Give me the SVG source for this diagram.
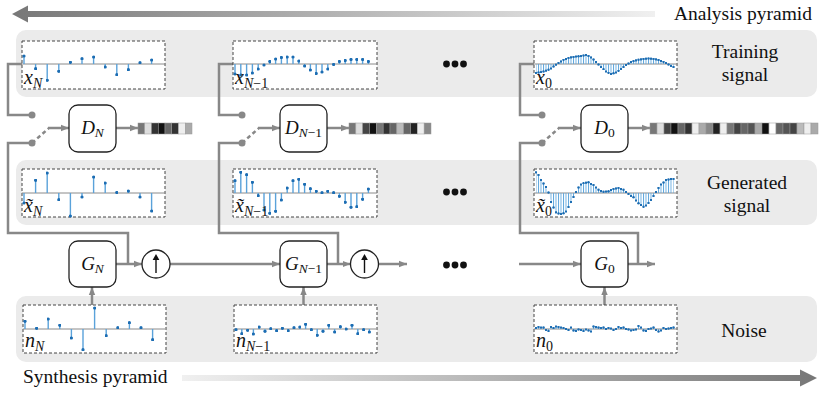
<svg xmlns="http://www.w3.org/2000/svg" width="830" height="394" viewBox="0 0 830 394">
<style>
.band{fill:#ebebeb}
.box{fill:#fff;stroke:#222;stroke-width:1.3}
.dbox{fill:#fff;stroke:#444;stroke-width:1;stroke-dasharray:3 2}
.ax{stroke:#8a8a8a;stroke-width:1;fill:none}
.st{stroke:#5aa2da;stroke-width:1.4;fill:none}
.dp{fill:none;stroke:none;marker-start:url(#dt);marker-mid:url(#dt);marker-end:url(#dt)}
.dd{fill:none;stroke:none;marker-start:url(#ds);marker-mid:url(#ds);marker-end:url(#ds)}
.hf{fill:url(#hatch);stroke:none}
.conn{stroke:#888;stroke-width:2.5;fill:none}
.arr{marker-end:url(#ah)}
.dash{stroke-dasharray:4 3}
.jd{fill:#888}
.lbl{font-family:'Liberation Serif','Times New Roman','DejaVu Serif',serif;font-style:italic;font-size:20px;fill:#111}
.sub{font-size:14px}
.up{font-style:normal}
.nl{font-family:'Liberation Serif','Times New Roman','DejaVu Serif',serif;font-style:italic;font-size:19px;fill:#111}
.nl .sub{font-size:13.5px}
.txt{font-family:'Liberation Serif','Times New Roman','DejaVu Serif',serif;font-size:19.5px;fill:#111}
.ell{fill:#111}
</style>
<defs>
<marker id="ah" viewBox="0 0 10 10" refX="10" refY="5" markerWidth="8" markerHeight="8" markerUnits="userSpaceOnUse" orient="auto"><path d="M0,1 L10,5 L0,9 z" fill="#888"/></marker>
<marker id="dt" viewBox="-1 -1 2 2" markerWidth="3.2" markerHeight="3.2" markerUnits="userSpaceOnUse"><circle r="1" fill="#1c6db3"/></marker>
<marker id="ds" viewBox="-1 -1 2 2" markerWidth="2.5" markerHeight="2.5" markerUnits="userSpaceOnUse"><circle r="1" fill="#1c6db3"/></marker>
<pattern id="hatch" width="2.5" height="4" patternUnits="userSpaceOnUse" patternTransform="translate(-0.45 0)"><rect width="0.9" height="4" fill="#5ea6dc"/></pattern>
<linearGradient id="gl" gradientUnits="userSpaceOnUse" x1="12" y1="0" x2="655" y2="0"><stop offset="0" stop-color="#777"/><stop offset="1" stop-color="#f0f0f0"/></linearGradient>
<linearGradient id="gr" gradientUnits="userSpaceOnUse" x1="182" y1="0" x2="817" y2="0"><stop offset="0" stop-color="#f0f0f0"/><stop offset="1" stop-color="#777"/></linearGradient>
</defs>

<g id="pyramid-arrows">
<polygon points="12,14 28,5.5 28,11 655,11 655,17 28,17 28,22.5" fill="url(#gl)"/>
<text class="txt" x="812" y="20" text-anchor="end">Analysis pyramid</text>
<polygon points="182,375 800,375 800,369.5 817,378 800,386.5 800,381 182,381" fill="url(#gr)"/>
<text class="txt" x="23" y="383">Synthesis pyramid</text>
</g>

<g id="bands">
<rect class="band" x="16" y="30" width="801" height="67" rx="10"/>
<rect class="band" x="16" y="160" width="801" height="65" rx="10"/>
<rect class="band" x="16" y="296" width="801" height="66" rx="10"/>
<text class="txt" x="745" y="57.5" text-anchor="middle">Training</text>
<text class="txt" x="745" y="80.5" text-anchor="middle">signal</text>
<text class="txt" x="747" y="189" text-anchor="middle">Generated</text>
<text class="txt" x="747" y="211.5" text-anchor="middle">signal</text>
<text class="txt" x="744" y="337" text-anchor="middle">Noise</text>
</g>

<g id="connectors">
<path class="conn" d="M22 64H8V115H32"/>
<path class="conn" d="M128 264V233H8V143H32"/>
<path class="conn dash" d="M32 143L48.5 128.5"/>
<path class="conn arr" d="M48 128H69"/>
<path class="conn arr" d="M116 128H138"/>
<path class="conn arr" d="M116 264H142"/>
<path class="conn arr" d="M170 264H280"/>
<path class="conn arr" d="M92 305V287"/>

<path class="conn" d="M233 64H219V115H242"/>
<path class="conn" d="M338 264V233H219V143H242"/>
<path class="conn dash" d="M242 143L258.5 128.5"/>
<path class="conn arr" d="M258 128H280"/>
<path class="conn arr" d="M327 128H349"/>
<path class="conn arr" d="M327 264H350.5"/>
<path class="conn arr" d="M378.5 264H407"/>
<path class="conn arr" d="M303.5 305V287"/>

<path class="conn" d="M534 64H520V115H542"/>
<path class="conn" d="M638 264V233H520V143H542"/>
<path class="conn dash" d="M542 143L558.5 128.5"/>
<path class="conn arr" d="M558 128H581"/>
<path class="conn arr" d="M628 128H650"/>
<path class="conn arr" d="M519 264H581"/>
<path class="conn arr" d="M628 264H655"/>
<path class="conn arr" d="M604.5 305V287"/>

<circle class="jd" cx="32" cy="115" r="3.5"/><circle class="jd" cx="32" cy="143" r="3.5"/>
<circle class="jd" cx="242" cy="115" r="3.5"/><circle class="jd" cx="242" cy="143" r="3.5"/>
<circle class="jd" cx="542" cy="115" r="3.5"/><circle class="jd" cx="542" cy="143" r="3.5"/>
</g>

<g id="ellipses">
<circle class="ell" cx="446.5" cy="64" r="3.4"/><circle class="ell" cx="455" cy="64" r="3.4"/><circle class="ell" cx="463.5" cy="64" r="3.4"/>
<circle class="ell" cx="446.5" cy="192" r="3.4"/><circle class="ell" cx="455" cy="192" r="3.4"/><circle class="ell" cx="463.5" cy="192" r="3.4"/>
<circle class="ell" cx="446.5" cy="265" r="3.4"/><circle class="ell" cx="455" cy="265" r="3.4"/><circle class="ell" cx="463.5" cy="265" r="3.4"/>
</g>

<!-- Training signals -->
<g id="xN">
<rect class="dbox" x="22" y="41" width="143" height="48"/>
<g transform="translate(0,64)">
<path class="ax" d="M22 0H165"/>
<path class="st" d="M24 0V-8M35.6 0V4.7M47.2 0V16.3M58.8 0V7.3M70.4 0V-1.7M82 0V-5.3M93.6 0V-7M105.2 0V3M116.8 0V10.7M128.4 0V5.7M140 0V-1.3M151.6 0V-4"/>
<polyline class="dp" points="24,-8 35.6,4.7 47.2,16.3 58.8,7.3 70.4,-1.7 82,-5.3 93.6,-7 105.2,3 116.8,10.7 128.4,5.7 140,-1.3 151.6,-4"/>
</g>
<text class="lbl" x="24" y="84">x<tspan class="sub" dy="4">N</tspan></text>
</g>

<g id="xN1">
<rect class="dbox" x="233" y="41" width="144" height="48"/>
<g transform="translate(235,64)">
<path class="ax" d="M-2 0H142"/>
<path class="st" d="M0 0V10M5.8 0V11M11.6 0V11M17.4 0V9M23.2 0V5M29 0V1M34.8 0V-2.5M40.6 0V-5M46.4 0V-6.5M52.2 0V-7M58 0V-7M63.8 0V-3M69.6 0V2M75.4 0V6M81.2 0V9.5M87 0V8M92.8 0V5M98.6 0V.5M104.4 0V-2.5M110.2 0V-3.5M116 0V-4.5M121.8 0V-4.5M127.6 0V-4.5M133.4 0V-2.5"/>
<polyline class="dp" points="0,10 5.8,11 11.6,11 17.4,9 23.2,5 29,1 34.8,-2.5 40.6,-5 46.4,-6.5 52.2,-7 58,-7 63.8,-3 69.6,2 75.4,6 81.2,9.5 87,8 92.8,5 98.6,.5 104.4,-2.5 110.2,-3.5 116,-4.5 121.8,-4.5 127.6,-4.5 133.4,-2.5"/>
</g>
<text class="lbl" x="235" y="84">x<tspan class="sub" dy="4">N<tspan class="up">−1</tspan></tspan></text>
</g>

<g id="x0">
<rect class="dbox" x="534" y="41" width="143" height="48"/>
<g transform="translate(536,64)">
<path class="ax" d="M-2 0H141"/>
<polygon class="hf" points="0,9 2.5,8.6 5,8.2 7.5,7.5 10,6.7 12.5,5.7 15,4.5 17.5,2.6 20,.7 22.5,-1 25,-2.6 27.5,-4.2 30,-5.1 32.5,-6 35,-6.7 37.5,-7.1 40,-7.5 42.5,-7.7 45,-7.9 47.5,-8.4 50,-9 52.5,-8.1 55,-6.6 57.5,-4.6 60,-2 62.5,.5 65,3 67.5,5.2 70,7.5 72.5,8.8 75,10 77.5,9.3 80,8.5 82.5,6.8 85,5 87.5,3 90,1 92.5,-.5 95,-2 97.5,-2.9 100,-3.7 102.5,-4.3 105,-4.7 107.5,-5.1 110,-5.3 112.5,-5.5 115,-5.3 117.5,-5.1 120,-4.7 122.5,-4.1 125,-3.2 127.5,-2.2 130,-.9 132.5,.6 135,1.8 137.5,3 137.5,0 0,0"/>
<polyline class="dd" points="0,9 2.5,8.6 5,8.2 7.5,7.5 10,6.7 12.5,5.7 15,4.5 17.5,2.6 20,.7 22.5,-1 25,-2.6 27.5,-4.2 30,-5.1 32.5,-6 35,-6.7 37.5,-7.1 40,-7.5 42.5,-7.7 45,-7.9 47.5,-8.4 50,-9 52.5,-8.1 55,-6.6 57.5,-4.6 60,-2 62.5,.5 65,3 67.5,5.2 70,7.5 72.5,8.8 75,10 77.5,9.3 80,8.5 82.5,6.8 85,5 87.5,3 90,1 92.5,-.5 95,-2 97.5,-2.9 100,-3.7 102.5,-4.3 105,-4.7 107.5,-5.1 110,-5.3 112.5,-5.5 115,-5.3 117.5,-5.1 120,-4.7 122.5,-4.1 125,-3.2 127.5,-2.2 130,-.9 132.5,.6 135,1.8 137.5,3"/>
</g>
<text class="lbl" x="536" y="84">x<tspan class="sub up" dy="4">0</tspan></text>
</g>

<!-- Discriminators -->
<g id="DN">
<rect class="box" x="69" y="105" width="47" height="47" rx="9"/>
<text class="nl" x="92.5" y="134" text-anchor="middle">D<tspan class="sub" dy="3">N</tspan></text>
</g>
<g id="DN1">
<rect class="box" x="280" y="105" width="47" height="47" rx="9"/>
<text class="nl" x="303.5" y="134" text-anchor="middle">D<tspan class="sub" dy="3">N<tspan class="up">−1</tspan></tspan></text>
</g>
<g id="D0">
<rect class="box" x="581" y="105" width="47" height="47" rx="9"/>
<text class="nl" x="604.5" y="134" text-anchor="middle">D<tspan class="sub up" dy="3">0</tspan></text>
</g>

<!-- Discriminator output maps -->
<g id="mapN" stroke="#999" stroke-width="0.5">
<rect x="138" y="123" width="6.75" height="11" fill="#777"/><rect x="144.75" y="123" width="6.75" height="11" fill="#ddd"/><rect x="151.5" y="123" width="6.75" height="11" fill="#333"/><rect x="158.25" y="123" width="6.75" height="11" fill="#111"/><rect x="165" y="123" width="6.75" height="11" fill="#666"/><rect x="171.75" y="123" width="6.75" height="11" fill="#333"/><rect x="178.5" y="123" width="6.75" height="11" fill="#eee"/><rect x="185.25" y="123" width="6.75" height="11" fill="#aaa"/>
</g>
<g id="mapN1" stroke="#999" stroke-width="0.5">
<rect x="349" y="123" width="6.83" height="11" fill="#777"/><rect x="355.83" y="123" width="6.83" height="11" fill="#ddd"/><rect x="362.67" y="123" width="6.83" height="11" fill="#444"/><rect x="369.5" y="123" width="6.83" height="11" fill="#111"/><rect x="376.33" y="123" width="6.83" height="11" fill="#777"/><rect x="383.17" y="123" width="6.83" height="11" fill="#333"/><rect x="390" y="123" width="6.83" height="11" fill="#666"/><rect x="396.83" y="123" width="6.83" height="11" fill="#bbb"/><rect x="403.67" y="123" width="6.83" height="11" fill="#666"/><rect x="410.5" y="123" width="6.83" height="11" fill="#222"/><rect x="417.33" y="123" width="6.83" height="11" fill="#eee"/><rect x="424.17" y="123" width="6.83" height="11" fill="#888"/>
</g>
<g id="map0" stroke="#999" stroke-width="0.5">
<rect x="650" y="123" width="7" height="11" fill="#777"/><rect x="657" y="123" width="7" height="11" fill="#ddd"/><rect x="664" y="123" width="7" height="11" fill="#444"/><rect x="671" y="123" width="7" height="11" fill="#111"/><rect x="678" y="123" width="7" height="11" fill="#666"/><rect x="685" y="123" width="7" height="11" fill="#333"/><rect x="692" y="123" width="7" height="11" fill="#eee"/><rect x="699" y="123" width="7" height="11" fill="#aaa"/><rect x="706" y="123" width="7" height="11" fill="#888"/><rect x="713" y="123" width="7" height="11" fill="#222"/><rect x="720" y="123" width="7" height="11" fill="#eee"/><rect x="727" y="123" width="7" height="11" fill="#777"/><rect x="734" y="123" width="7" height="11" fill="#444"/><rect x="741" y="123" width="7" height="11" fill="#666"/><rect x="748" y="123" width="7" height="11" fill="#555"/><rect x="755" y="123" width="7" height="11" fill="#aaa"/><rect x="762" y="123" width="7" height="11" fill="#111"/><rect x="769" y="123" width="7" height="11" fill="#fff"/><rect x="776" y="123" width="7" height="11" fill="#666"/><rect x="783" y="123" width="7" height="11" fill="#555"/><rect x="790" y="123" width="7" height="11" fill="#444"/><rect x="797" y="123" width="7" height="11" fill="#bbb"/><rect x="804" y="123" width="7" height="11" fill="#eee"/><rect x="811" y="123" width="7" height="11" fill="#aaa"/>
</g>

<!-- Generated signals -->
<g id="xtN">
<rect class="dbox" x="22" y="169" width="143" height="48"/>
<g transform="translate(0,193)">
<path class="ax" d="M22 0H165"/>
<path class="st" d="M24 0V10M35.6 0V-12.7M47.2 0V-20M58.8 0V6.7M70.4 0V23M82 0V4M93.6 0V-16M105.2 0V-10M116.8 0V-.5M128.4 0V-2M140 0V4M151.6 0V18"/>
<polyline class="dp" points="24,10 35.6,-12.7 47.2,-20 58.8,6.7 70.4,23 82,4 93.6,-16 105.2,-10 116.8,-.5 128.4,-2 140,4 151.6,18"/>
</g>
<text class="lbl" x="24" y="212">x̃<tspan class="sub" dy="4">N</tspan></text>
</g>

<g id="xtN1">
<rect class="dbox" x="233" y="169" width="144" height="48"/>
<g transform="translate(235,193)">
<path class="ax" d="M-2 0H142"/>
<path class="st" d="M0 0V-12.3M5.8 0V-20.7M11.6 0V-18.3M17.4 0V-10.7M23.2 0V2.7M29 0V17M34.8 0V20.3M40.6 0V18.3M46.4 0V7M52.2 0V-5M58 0V-12.3M63.8 0V-13.7M69.6 0V-8.7M75.4 0V-4.3M81.2 0V-1.7M87 0V-.3M92.8 0V-1.7M98.6 0V-.3M104.4 0V3.3M110.2 0V9.3M116 0V14.3M121.8 0V13.7M127.6 0V6.3M133.4 0V-4"/>
<polyline class="dp" points="0,-12.3 5.8,-20.7 11.6,-18.3 17.4,-10.7 23.2,2.7 29,17 34.8,20.3 40.6,18.3 46.4,7 52.2,-5 58,-12.3 63.8,-13.7 69.6,-8.7 75.4,-4.3 81.2,-1.7 87,-.3 92.8,-1.7 98.6,-.3 104.4,3.3 110.2,9.3 116,14.3 121.8,13.7 127.6,6.3 133.4,-4"/>
</g>
<text class="lbl" x="235" y="212">x̃<tspan class="sub" dy="4">N<tspan class="up">−1</tspan></tspan></text>
</g>

<g id="xt0">
<rect class="dbox" x="534" y="169" width="143" height="48"/>
<g transform="translate(536,193)">
<path class="ax" d="M-2 0H141"/>
<polygon class="hf" points="0,-20.7 2.5,-18 5,-13 7.5,-9.5 10,-6 12.5,-.6 15,9 17.5,14.5 20,19.3 22.5,20.5 25,21 27.5,20.3 30,18.5 32.5,14 35,9 37.5,4 40,-1 42.5,-5.5 45,-8.5 47.5,-9.8 50,-10.3 52.5,-10.7 55,-9 57.5,-8 60,-5.5 62.5,-3.3 65,-2.2 67.5,-1.3 70,-1.5 72.5,-1.7 75,-3 77.5,-4 80,-4.6 82.5,-5 85,-4 87.5,-3.3 90,-1 92.5,1 95,2.8 97.5,4.3 100,7.5 102.5,10.3 105,12 107.5,13.7 110,12.5 112.5,10 115,7 117.5,3 120,-1 122.5,-5 125,-8.5 127.5,-10.5 130,-13 132.5,-13.5 135,-14 137.5,-14 137.5,0 0,0"/>
<polyline class="dd" points="0,-20.7 2.5,-18 5,-13 7.5,-9.5 10,-6 12.5,-.6 15,9 17.5,14.5 20,19.3 22.5,20.5 25,21 27.5,20.3 30,18.5 32.5,14 35,9 37.5,4 40,-1 42.5,-5.5 45,-8.5 47.5,-9.8 50,-10.3 52.5,-10.7 55,-9 57.5,-8 60,-5.5 62.5,-3.3 65,-2.2 67.5,-1.3 70,-1.5 72.5,-1.7 75,-3 77.5,-4 80,-4.6 82.5,-5 85,-4 87.5,-3.3 90,-1 92.5,1 95,2.8 97.5,4.3 100,7.5 102.5,10.3 105,12 107.5,13.7 110,12.5 112.5,10 115,7 117.5,3 120,-1 122.5,-5 125,-8.5 127.5,-10.5 130,-13 132.5,-13.5 135,-14 137.5,-14"/>
</g>
<text class="lbl" x="536" y="212">x̃<tspan class="sub up" dy="4">0</tspan></text>
</g>

<!-- Generators -->
<g id="GN">
<rect class="box" x="69" y="241" width="47" height="46" rx="9"/>
<text class="nl" x="92.5" y="269.5" text-anchor="middle">G<tspan class="sub" dy="3">N</tspan></text>
</g>
<g id="upN">
<circle cx="156" cy="264" r="14" fill="#fff" stroke="#222" stroke-width="1.3"/>
<path d="M156 273V258" stroke="#111" stroke-width="1.4"/>
<polygon points="156,254 152.6,260 159.4,260" fill="#111"/>
</g>
<g id="GN1">
<rect class="box" x="280" y="241" width="47" height="46" rx="9"/>
<text class="nl" x="303.5" y="269.5" text-anchor="middle">G<tspan class="sub" dy="3">N<tspan class="up">−1</tspan></tspan></text>
</g>
<g id="upN1">
<circle cx="364.5" cy="264" r="14" fill="#fff" stroke="#222" stroke-width="1.3"/>
<path d="M364.5 273V258" stroke="#111" stroke-width="1.4"/>
<polygon points="364.5,254 361.1,260 367.9,260" fill="#111"/>
</g>
<g id="G0">
<rect class="box" x="581" y="241" width="47" height="46" rx="9"/>
<text class="nl" x="604.5" y="269.5" text-anchor="middle">G<tspan class="sub up" dy="3">0</tspan></text>
</g>

<!-- Noise -->
<g id="nN">
<rect class="dbox" x="23" y="305" width="143" height="48"/>
<g transform="translate(0,329)">
<path class="ax" d="M23 0H165"/>
<path class="st" d="M25 0V-7.7M36.6 0V-.7M48.2 0V-10M59.8 0V-3.7M71.4 0V9M83 0V20.7M94.6 0V-21M106.2 0V6.7M117.8 0V-1.3M129.4 0V-6.3M141 0V-1.3M152.6 0V10.7"/>
<polyline class="dp" points="25,-7.7 36.6,-.7 48.2,-10 59.8,-3.7 71.4,9 83,20.7 94.6,-21 106.2,6.7 117.8,-1.3 129.4,-6.3 141,-1.3 152.6,10.7"/>
</g>
<text class="lbl" x="25" y="347">n<tspan class="sub" dy="4">N</tspan></text>
</g>

<g id="nN1">
<rect class="dbox" x="234" y="305" width="143" height="48"/>
<g transform="translate(236,329)">
<path class="ax" d="M-2 0H140"/>
<path class="st" d="M0 0V.7M5.8 0V4.7M11.6 0V1.3M17.4 0V5M23.2 0V-2M29 0V2.3M34.8 0V-.3M40.6 0V1.7M46.4 0V-.7M52.2 0V1.7M58 0V-1.3M63.8 0V-2M69.6 0V-4.7M75.4 0V.7M81.2 0V6.3M87 0V2.3M92.8 0V-3.7M98.6 0V3M104.4 0V-2.3M110.2 0V0M116 0V-3.7M121.8 0V4.7M127.6 0V.7M133.4 0V3"/>
<polyline class="dp" points="0,.7 5.8,4.7 11.6,1.3 17.4,5 23.2,-2 29,2.3 34.8,-.3 40.6,1.7 46.4,-.7 52.2,1.7 58,-1.3 63.8,-2 69.6,-4.7 75.4,.7 81.2,6.3 87,2.3 92.8,-3.7 98.6,3 104.4,-2.3 110.2,0 116,-3.7 121.8,4.7 127.6,.7 133.4,3"/>
</g>
<text class="lbl" x="236" y="347">n<tspan class="sub" dy="4">N<tspan class="up">−1</tspan></tspan></text>
</g>

<g id="n0">
<rect class="dbox" x="534" y="305" width="143" height="48"/>
<g transform="translate(536,329)">
<path class="ax" d="M-2 0H141"/>
<polygon class="hf" points="0,-1 2.5,-2 5,-1.5 7.5,-1.5 10,1 12.5,2 15,-2 17.5,-1 20,-2.5 22.5,-2 25,-1.5 27.5,-1 30,0 32.5,1 35,-1.5 37.5,1.5 40,2 42.5,.5 45,1 47.5,2 50,.5 52.5,1.5 55,2.5 57.5,-2.5 60,-2 62.5,-1.5 65,-1 67.5,-1.5 70,0 72.5,-1 75,-.5 77.5,1 80,0 82.5,-2 85,-1 87.5,-1.5 90,0 92.5,.5 95,1.5 97.5,1 100,.5 102.5,-3 105,-1.5 107.5,1.5 110,2 112.5,0 115,-.5 117.5,-1.5 120,1 122.5,2.5 125,1.5 127.5,-1 130,0 132.5,-.5 135,-1 137.5,-1.5 137.5,0 0,0"/>
<polyline class="dd" points="0,-1 2.5,-2 5,-1.5 7.5,-1.5 10,1 12.5,2 15,-2 17.5,-1 20,-2.5 22.5,-2 25,-1.5 27.5,-1 30,0 32.5,1 35,-1.5 37.5,1.5 40,2 42.5,.5 45,1 47.5,2 50,.5 52.5,1.5 55,2.5 57.5,-2.5 60,-2 62.5,-1.5 65,-1 67.5,-1.5 70,0 72.5,-1 75,-.5 77.5,1 80,0 82.5,-2 85,-1 87.5,-1.5 90,0 92.5,.5 95,1.5 97.5,1 100,.5 102.5,-3 105,-1.5 107.5,1.5 110,2 112.5,0 115,-.5 117.5,-1.5 120,1 122.5,2.5 125,1.5 127.5,-1 130,0 132.5,-.5 135,-1 137.5,-1.5"/>
</g>
<text class="lbl" x="536" y="347">n<tspan class="sub up" dy="4">0</tspan></text>
</g>
</svg>
